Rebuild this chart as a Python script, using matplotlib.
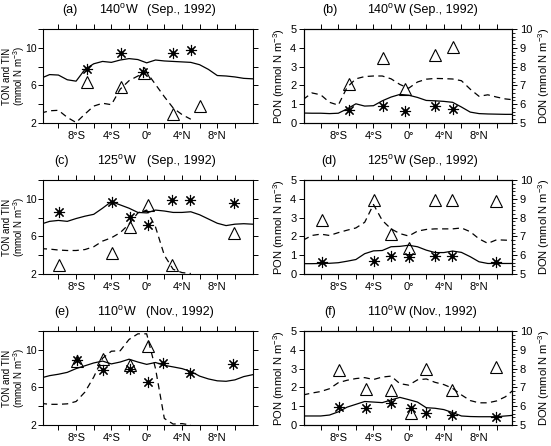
import numpy as np
import matplotlib
matplotlib.use("Agg")
import matplotlib.pyplot as plt
from matplotlib.ticker import MultipleLocator

plt.rcParams['font.family'] = ['Liberation Sans', 'DejaVu Sans']
plt.rcParams['mathtext.fontset'] = 'custom'
plt.rcParams['mathtext.rm'] = 'Liberation Sans'
plt.rcParams['mathtext.it'] = 'Liberation Sans'

nan = np.nan
lat = np.arange(-12, 13)

# (a) 140W Sep 1992 : TON model (solid), TIN model (dashed)
ton_a = [6.75, 7.15, 7.1, 6.6, 6.45, 7.7, 8.3, 8.55, 8.45, 8.7, 8.85, 8.75, 8.4,
         8.7, 8.6, 8.55, 8.5, 8.45, 8.2, 7.7, 7.05, 7.0, 6.9, 6.75, 6.7]
tin_a = [3.05, 3.3, 3.35, 2.6, 2.05, 2.95, 3.8, 4.1, 3.95, 5.6, 6.5, 7.0, 7.4,
         6.1, 4.8, 3.6, 2.9, 2.4, nan, nan, nan, nan, nan, nan, nan]
ston_a_lat = [-6.8, -2.9, -0.4, 3.0, 5.0]
ston_a = [7.7, 9.4, 7.45, 9.5, 9.8]
stin_a_lat = [-6.8, -2.9, -0.3, 3.0, 6.0]
stin_a = [6.4, 5.8, 7.3, 3.0, 3.8]

# (b) 140W Sep 1992 : PON model (solid, left), DON model (dashed, right)
pon_b = [0.53, 0.52, 0.52, 0.5, 0.52, 0.75, 1.02, 0.9, 0.92, 1.18, 1.38, 1.52, 1.48,
         1.36, 1.2, 1.18, 1.15, 1.1, 0.85, 0.58, 0.5, 0.48, 0.47, 0.46, 0.46]
don_b = [6.25, 6.6, 6.5, 6.1, 5.95, 6.9, 7.35, 7.47, 7.5, 7.5, 7.35, 7.05, 6.85,
         7.18, 7.33, 7.37, 7.36, 7.34, 7.25, 6.8, 6.42, 6.5, 6.38, 6.28, 6.23]
st_b_lat = [-6.8, -2.9, -0.45, 3.0, 5.0]
spon_b = [0.7, 0.88, 0.65, 0.88, 0.75]
sdon_b = [7.05, 8.47, 6.8, 8.6, 9.04]

# (c) 125W Sep 1992
ton_c = [7.3, 7.6, 7.7, 7.6, 7.9, 8.15, 8.35, 9.0, 9.7, 9.35, 9.0, 8.55, 8.5,
         8.8, 8.7, 8.55, 8.55, 8.62, 8.3, 7.85, 7.4, 7.15, 7.3, 7.35, 7.3]
tin_c = [4.7, 4.65, 4.55, 4.5, 4.5, 4.6, 4.9, 5.5, 5.85, 6.4, 7.3, 8.5, 8.8,
         7.0, 4.0, 2.5, 2.15, 2.05, nan, nan, nan, nan, nan, nan, nan]
st_c_lat = [-9.9, -3.9, -1.9, 0.1, 2.9, 4.9, 9.9]
ston_c = [8.55, 9.65, 8.05, 7.17, 9.9, 9.9, 9.55]
stin_c = [3.0, 4.23, 7.0, 9.3, 3.0, nan, 6.35]

# (d) 125W Sep 1992
pon_d = [0.55, 0.55, 0.56, 0.57, 0.6, 0.68, 0.77, 1.08, 1.23, 1.25, 1.45, 1.47, 1.53,
         1.45, 1.27, 1.14, 1.14, 1.22, 1.15, 0.92, 0.65, 0.56, 0.56, 0.56, 0.56]
don_d = [6.8, 7.05, 7.12, 7.05, 7.2, 7.33, 7.45, 7.75, 8.7, 7.85, 7.4, 7.15, 7.02,
         7.28, 7.37, 7.4, 7.4, 7.4, 7.45, 7.25, 6.87, 6.63, 6.82, 6.8, 6.78]
st_d_lat = [-9.9, -3.9, -2.0, 0.0, 3.0, 4.9, 9.9]
spon_d = [0.65, 0.67, 0.96, 0.88, 0.96, 0.96, 0.65]
sdon_d = [7.86, 8.91, 7.12, 6.4, 8.95, 8.95, 8.9]

# (e) 110W Nov 1992
ton_e = [7.0, 7.25, 7.4, 7.6, 8.0, 8.3, 8.6, 8.8, 8.5, 8.7, 9.0, 8.7, 8.45,
         8.65, 8.35, 8.18, 8.0, 7.7, 7.2, 6.9, 6.7, 6.65, 6.8, 7.15, 7.35]
tin_e = [4.3, 4.2, 4.2, 4.25, 4.5, 5.5, 7.1, 9.1, 9.85, 9.9, 11.1, 11.7, 11.7,
         8.0, 2.7, 2.1, 2.15, 2.0, nan, nan, nan, nan, nan, nan, nan]
st_e_lat = [-7.9, -4.9, -1.9, 0.2, 1.9, 4.9, 9.8]
ston_e = [8.9, 7.83, 8.0, 6.6, 8.6, 7.48, 8.54]
stin_e = [8.8, 9.07, 8.36, 10.4, nan, nan, nan]

# (f) 110W Nov 1992
pon_f = [0.48, 0.48, 0.48, 0.53, 0.7, 0.95, 1.1, 1.25, 1.22, 1.19, 1.33, 1.47, 1.35,
         1.22, 0.92, 0.89, 0.82, 0.66, 0.48, 0.45, 0.44, 0.44, 0.44, 0.48, 0.52]
don_f = [6.6, 6.7, 6.78, 6.93, 7.25, 7.38, 7.47, 7.52, 7.42, 7.55, 7.6, 7.2, 7.12,
         7.4, 7.45, 7.27, 7.15, 6.95, 6.6, 6.3, 6.18, 6.18, 6.28, 6.5, 6.9]
st_f_lat = [-7.9, -4.9, -2.0, 0.3, 2.0, 4.9, 9.9]
spon_f = [0.94, 0.89, 1.19, 0.89, 0.66, 0.53, 0.41]
sdon_f = [7.93, 6.91, 6.86, 5.66, 7.98, 6.86, 8.1]

lat_ticks = [-8, -4, 0, 4, 8]
lat_labels = ['8°S', '4°S', '0°', '4°N', '8°N']

W, H = 551, 446
fig = plt.figure(figsize=(W / 100, H / 100), dpi=100)

def box(x0, top, w=208, h=94):
    return [x0 / W, 1 - (top + h) / H, w / W, h / H]

def star(ax, x, y):
    ax.plot(x, y, ls='none', marker=(8, 2, 0), ms=8, mew=0.8, color='k')
    ax.plot(x, y, ls='none', marker='o', ms=2.2, color='k')

def tri(ax, x, y):
    ax.plot(x, y, ls='none', marker='^', ms=9, mfc='none', mec='k', mew=0.8)

def common_x(ax, xlim):
    ax.set_xlim(*xlim)
    ticks = np.arange(-10, 11, 2)
    ax.set_xticks(ticks)
    ax.set_xticklabels([lat_labels[lat_ticks.index(v)] if v in lat_ticks else ''
                        for v in ticks])
    ax.tick_params(axis='both', direction='out', length=3.5, width=0.7,
                   labelsize=8, top=True, pad=2)
    for s in ax.spines.values():
        s.set_linewidth(0.8)

def titles(ax, items):
    for xpos, txt in items:
        ax.text(xpos, 1.2, txt, transform=ax.transAxes, ha='center',
                va='center', fontsize=9)

dash = (0, (5, 3.5))

def left_panel(top, ton, tin, slat_on, son, slat_in, sin, ttl):
    ax = fig.add_axes(box(43, top, w=210))
    ax.plot(lat, ton, color='k', lw=0.9)
    ax.plot(lat, tin, color='k', lw=0.9, ls=dash)
    tri(ax, slat_in, sin)
    star(ax, slat_on, son)
    common_x(ax, (-11.75, 12.05))
    ax.set_ylim(2, 12)
    ax.set_yticks(np.arange(2, 13, 2))
    ax.set_yticklabels(['2', '', '6', '', '10', ''])
    ax.tick_params(axis='y', right=True, labelsize=7.5, pad=1.2)
    ymid = 1 - (top + 47) / H
    fig.text(1.5 / W, ymid, 'TON and TIN', rotation=90, ha='left',
             va='center', fontsize=7)
    fig.text(11.5 / W, ymid, '(mmol N m$^{-3}$)', rotation=90, ha='left',
             va='center', fontsize=7)
    titles(ax, ttl)
    return ax

def right_panel(top, pon, don, slat, spon, sdon, ttl):
    ax = fig.add_axes(box(304, top))
    ax2 = ax.twinx()
    ax.plot(lat, pon, color='k', lw=0.9)
    ax2.plot(lat, don, color='k', lw=0.9, ls=dash)
    tri(ax2, slat, sdon)
    star(ax, slat, spon)
    common_x(ax, (-11.9, 11.75))
    ax.set_ylim(0, 5)
    ax.yaxis.set_major_locator(MultipleLocator(1))
    ax2.set_ylim(5, 10)
    ax2.yaxis.set_major_locator(MultipleLocator(1))
    ax2.yaxis.set_minor_locator(MultipleLocator(0.2))
    ax2.tick_params(axis='y', which='major', direction='out', length=3.5,
                    width=0.7, labelsize=8, pad=2)
    ax2.tick_params(axis='y', which='minor', direction='out', length=2,
                    width=0.6)
    for s in ax2.spines.values():
        s.set_linewidth(0.8)
    ax.set_ylabel('PON (mmol N m$^{-3}$)', fontsize=8, labelpad=2)
    ax2.set_ylabel('DON (mmol N m$^{-3}$)', fontsize=8, labelpad=3)
    titles(ax, ttl)
    return ax

left_panel(29, ton_a, tin_a, ston_a_lat, ston_a, stin_a_lat, stin_a,
           [(0.13, '(a)'), (0.36, '140$^{\\rm o}$W'), (0.66, '(Sep., 1992)')])
right_panel(29, pon_b, don_b, st_b_lat, spon_b, sdon_b,
            [(0.125, '(b)'), (0.40, '140$^{\\rm o}$W'), (0.67, '(Sep., 1992)')])
left_panel(180, ton_c, tin_c, st_c_lat, ston_c, st_c_lat, stin_c,
           [(0.09, '(c)'), (0.35, '125$^{\\rm o}$W'), (0.66, '(Sep., 1992)')])
right_panel(180, pon_d, don_d, st_d_lat, spon_d, sdon_d,
            [(0.12, '(d)'), (0.40, '125$^{\\rm o}$W'), (0.67, '(Sep., 1992)')])
left_panel(331, ton_e, tin_e, st_e_lat, ston_e, st_e_lat, stin_e,
           [(0.09, '(e)'), (0.35, '110$^{\\rm o}$W'), (0.65, '(Nov., 1992)')])
right_panel(331, pon_f, don_f, st_f_lat, spon_f, sdon_f,
            [(0.125, '(f)'), (0.40, '110$^{\\rm o}$W'), (0.67, '(Nov., 1992)')])

fig.savefig('out.png', dpi=100, facecolor='white')
